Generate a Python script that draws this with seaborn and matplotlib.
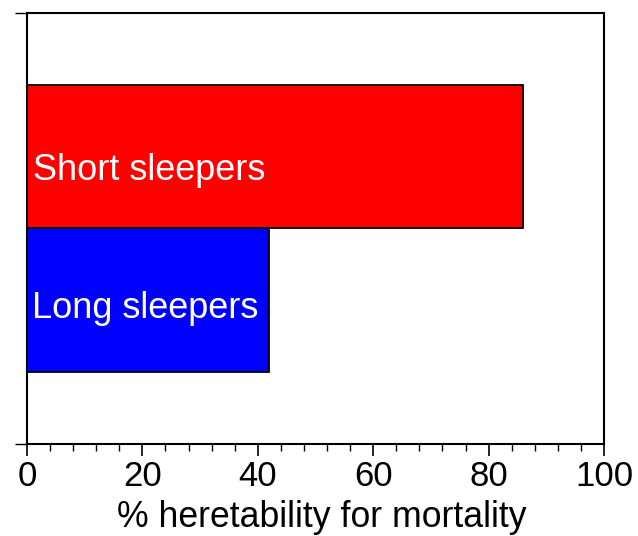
import matplotlib
matplotlib.use("Agg")
import matplotlib.pyplot as plt
from matplotlib.ticker import MultipleLocator, FixedLocator
import seaborn as sns
import pandas as pd

categories = ["Short sleepers", "Long sleepers"]
values = [86, 42]
colors = ["#ff0000", "#0000ff"]
x_ticks = [0, 20, 40, 60, 80, 100]

# label placement (style only)
label_x = [1.0, 0.8]
label_dy = [0.16, 0.125]

sns.set_style("white")
plt.rcParams["font.family"] = ["Liberation Sans", "DejaVu Sans"]
plt.rcParams["text.color"] = "black"
plt.rcParams["axes.labelcolor"] = "black"
plt.rcParams["xtick.color"] = "black"
plt.rcParams["ytick.color"] = "black"

df = pd.DataFrame({"category": categories, "value": values})

fig = plt.figure(figsize=(6.38, 5.36), dpi=100)
ax = fig.add_axes([27/638, 1-444/536, (604-27)/638, (444-13)/536])

sns.barplot(data=df, x="value", y="category", hue="category", palette=colors,
            orient="h", width=1.0, edgecolor="black", linewidth=1.3,
            legend=False, ax=ax, saturation=1)

ax.set_xlim(0, 100)
ax.set_ylim(2.0, -1.0)
ax.xaxis.set_major_locator(FixedLocator(x_ticks))
ax.xaxis.set_minor_locator(MultipleLocator(4))
ax.yaxis.set_major_locator(FixedLocator([-1.0, 2.0]))
ax.set_yticklabels([])
ax.set_ylabel("")
ax.set_xlabel("% heretability for mortality", fontsize=25.7, labelpad=5, color="black")
ax.xaxis.label.set_x(0.511)
ax.tick_params(axis="x", which="major", direction="out", length=8.6, width=1.2,
               labelsize=25, pad=3, bottom=True, labelcolor="black")
ax.tick_params(axis="x", which="minor", direction="out", length=5, width=1.0, bottom=True)
ax.tick_params(axis="y", which="major", direction="out", length=8.6, width=1.0, left=True)
for s in ax.spines.values():
    s.set_visible(True)
    s.set_linewidth(1.5)
    s.set_color("black")

for i, (cat, val) in enumerate(zip(categories, values)):
    ax.text(label_x[i], i + label_dy[i], cat, color="white", fontsize=26,
            va="baseline", ha="left")

fig.savefig("out.png", dpi=100)
